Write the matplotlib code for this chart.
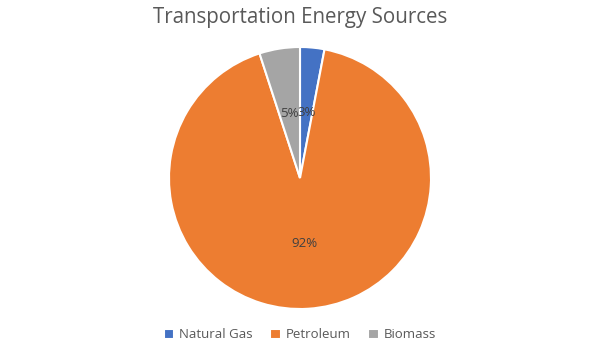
import matplotlib.pyplot as plt

labels = ['Natural Gas', 'Petroleum', 'Biomass']
values = [3, 92, 5]
colors = ['#4472C4', '#ED7D31', '#A5A5A5']

plt.rcParams['font.family'] = ['Open Sans', 'DejaVu Sans']

fig = plt.figure(figsize=(6, 3.6), dpi=100)
ax = fig.add_axes([169 / 600, 51 / 360, 262 / 600, 262 / 360])

wedges, texts, autotexts = ax.pie(values, colors=colors, startangle=90, counterclock=False,
                                  autopct='%1.0f%%', pctdistance=0.5,
                                  wedgeprops=dict(edgecolor='white', linewidth=1.5),
                                  textprops=dict(color='#404040', fontsize=9.5))
ax.set_aspect('equal')
ax.set_xlim(-1, 1)
ax.set_ylim(-1, 1)

fig.text(0.5, 1 - 18 / 360, 'Transportation Energy Sources', ha='center', va='center',
         fontsize=14.8, color='#595959')

fig.legend(wedges, labels, loc='center', bbox_to_anchor=(0.5, 1 - 335 / 360), ncol=3,
           frameon=False, fontsize=9.5, labelcolor='#595959', handlelength=0.8,
           handleheight=0.8, columnspacing=1.3, handletextpad=0.4)

fig.savefig('out.png', dpi=100)
